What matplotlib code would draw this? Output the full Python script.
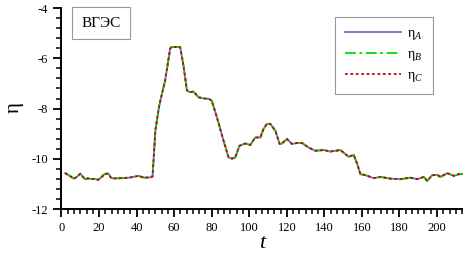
import matplotlib
matplotlib.use("Agg")
import matplotlib.pyplot as plt
from matplotlib.ticker import MultipleLocator

plt.rcParams["font.family"] = ["Liberation Serif", "DejaVu Serif"]
plt.rcParams["mathtext.fontset"] = "custom"
plt.rcParams["mathtext.rm"] = "Liberation Serif"
plt.rcParams["mathtext.it"] = "Liberation Serif:italic"
plt.rcParams["axes.unicode_minus"] = False

# values
t = [2, 4, 6.7, 8.5, 10, 12.5, 14, 16, 18, 19.5, 21, 23, 25, 26.5, 28, 32, 36, 41,
     44, 47.5, 48.5, 50, 52, 55.2, 57.9, 58.5, 61, 63.2, 65, 66.8, 68.5, 70.3, 73,
     76, 78.3, 80, 83, 86, 89, 90.8, 92.5, 94.8, 97.9, 100.5, 103.2, 105.9, 107.6,
     109.4, 111.2, 113.9, 116.2, 117.4, 120.1, 122.8, 125.4, 128.1, 131.6, 135.2,
     139.6, 143.2, 148.5, 153, 155.6, 157.5, 159.2, 161.9, 166.3, 169.9, 175.2,
     180.5, 185.9, 189.4, 193, 194.8, 197.4, 200.1, 201.9, 205.4, 209, 211.6, 214]
eta_A = [-10.57, -10.66, -10.79, -10.7, -10.59, -10.81, -10.78, -10.8, -10.8, -10.84,
         -10.75, -10.6, -10.59, -10.77, -10.78, -10.77, -10.75, -10.68,
         -10.75, -10.74, -10.7, -8.88, -7.9, -6.88, -5.61, -5.55, -5.55, -5.55, -6.3,
         -7.28, -7.35, -7.32, -7.55, -7.6, -7.61, -7.68, -8.4, -9.2, -9.95, -9.99,
         -9.95, -9.48, -9.39, -9.45, -9.15, -9.15, -8.81,
         -8.61, -8.61, -8.88, -9.41, -9.39, -9.21, -9.41, -9.37, -9.37, -9.55, -9.68,
         -9.65, -9.71, -9.65, -9.92, -9.84, -10.2, -10.61, -10.65, -10.77, -10.72, -10.79,
         -10.81, -10.75, -10.81, -10.72, -10.88, -10.65, -10.64, -10.72, -10.57, -10.68, -10.61, -10.61]
eta_B = list(eta_A)
eta_C = list(eta_A)

fig = plt.figure(figsize=(4.64, 2.61), dpi=100)
ax = fig.add_axes([0.1325, 0.199, 0.866, 0.77])

ax.plot(t, eta_A, color="#7070d0", lw=1.3, ls="-", label=r"$\mathrm{\eta}_{A}$")
ax.plot(t, eta_B, color="#00dd00", lw=1.3, ls=(0, (6, 2, 1.5, 2)), label=r"$\mathrm{\eta}_{B}$")
ax.plot(t, eta_C, color="#cc0000", lw=1.3, ls=(0, (1.5, 1.5)), label=r"$\mathrm{\eta}_{C}$")

ax.set_xlim(0, 214)
ax.set_ylim(-12, -4)
ax.xaxis.set_major_locator(MultipleLocator(20))
ax.xaxis.set_minor_locator(MultipleLocator(20 / 6))
ax.yaxis.set_major_locator(MultipleLocator(2))
ax.yaxis.set_minor_locator(MultipleLocator(0.4))
ax.spines["top"].set_visible(False)
ax.spines["right"].set_visible(False)
for s in ("left", "bottom"):
    ax.spines[s].set_linewidth(1.4)
ax.tick_params(which="major", direction="out", length=6, width=1.3, labelsize=9)
ax.tick_params(which="minor", direction="out", length=3.5, width=1.1)

ax.set_ylabel(r"$\mathrm{\eta}$", fontsize=15, labelpad=4)
ax.set_xlabel("t", fontsize=16, style="italic", labelpad=0)

ax.text(0.05, 0.925, "ВГЭС", transform=ax.transAxes, fontsize=11, va="center",
        ha="left", bbox=dict(boxstyle="square,pad=0.6", fc="white", ec="#999999", lw=0.8))

leg = ax.legend(loc="upper right", bbox_to_anchor=(0.925, 0.955), fancybox=False,
                edgecolor="#999999", framealpha=1, fontsize=10, handlelength=4.0,
                borderpad=0.7, labelspacing=0.45, handletextpad=0.5,
                borderaxespad=0)
leg.get_frame().set_linewidth(0.8)

fig.savefig("out.png", dpi=100)
